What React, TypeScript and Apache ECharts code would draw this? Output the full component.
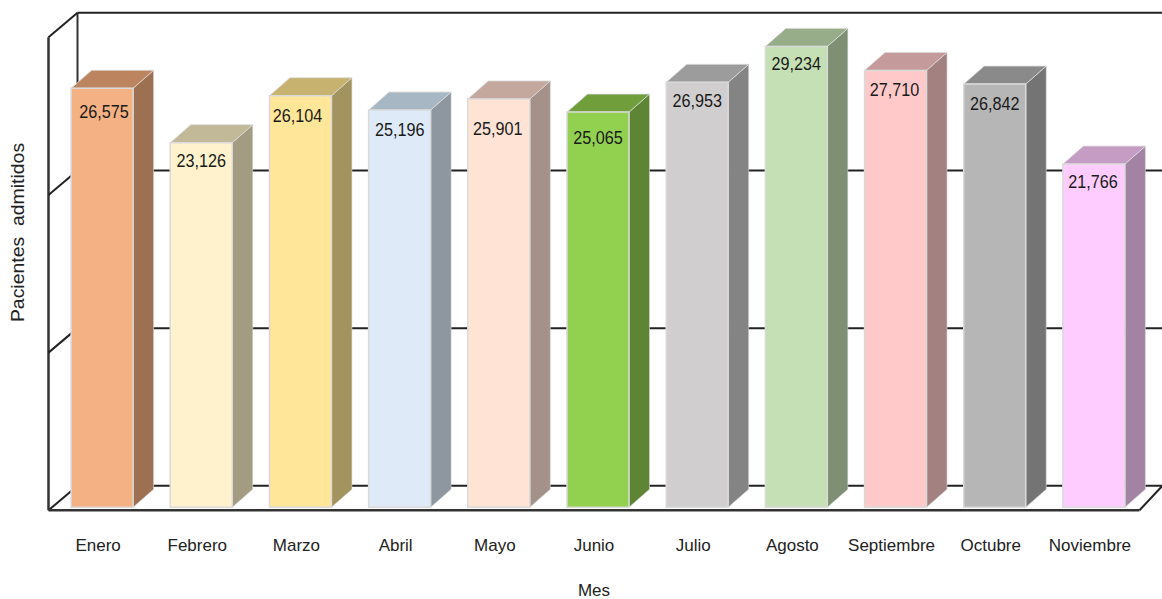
import React, { useEffect, useRef } from "react";
import * as echarts from "echarts";

const months = ["Enero", "Febrero", "Marzo", "Abril", "Mayo", "Junio", "Julio", "Agosto", "Septiembre", "Octubre", "Noviembre"];
const patients = [26575, 23126, 26104, 25196, 25901, 25065, 26953, 29234, 27710, 26842, 21766];
const valueTicks = [0, 10000, 20000, 30000];
const frontColors = ["#F4B183", "#FFF2CC", "#FFE699", "#DEEAF7", "#FFE3D5", "#92D050", "#D0CECE", "#C5E0B4", "#FFC9C9", "#B6B6B6", "#FFCCFF"];
const sideColors = ["#9C7050", "#A39C82", "#A3935F", "#8E969F", "#A3918A", "#5D8533", "#858484", "#7E8F73", "#A38181", "#747474", "#A383A3"];
const topColors = ["#BC8560", "#C2B998", "#C7B36F", "#A8B7C4", "#C4A89E", "#6F9E3B", "#9D9C9C", "#97AC88", "#C49A9A", "#8A8A8A", "#C49CC4"];
const labelDrop = [24, 19, 20, 20, 30, 26, 19, 18, 20, 20, 18];
const labelShift = [2, 0, -3, 0, -1, 0, 0, 0, -1, 0, -1];

const FONT = "'Liberation Sans', Arial, sans-serif";

export default function App() {
  const ref = useRef<HTMLDivElement>(null);
  useEffect(() => {
    document.body.style.margin = "0";
    const chart = echarts.init(ref.current!, undefined, { renderer: "svg" });
    const line = (x1: number, y1: number, x2: number, y2: number, width = 2, color = "#222") => ({
      type: "line",
      shape: { x1, y1, x2, y2 },
      style: { stroke: color, lineWidth: width },
    });
    chart.setOption({
      animation: false,
      backgroundColor: "#fff",
      grid: { left: 48.5, top: 37.3, width: 1091, height: 473, outerBoundsMode: "none" },
      xAxis: {
        type: "category",
        data: months,
        name: "Mes",
        nameLocation: "middle",
        nameGap: 72,
        nameTextStyle: { fontFamily: FONT, fontSize: 17, color: "#222" },
        axisLine: { show: false },
        axisTick: { show: false },
        axisLabel: { margin: 27, fontFamily: FONT, fontSize: 17, color: "#222", interval: 0 },
      },
      yAxis: {
        type: "value",
        min: 0,
        max: 30000,
        interval: 10000,
        axisLine: { show: false },
        axisTick: { show: false },
        axisLabel: { show: false },
        splitLine: { show: false },
      },
      graphic: [
        {
          type: "text",
          x: 18,
          y: 232.5,
          rotation: Math.PI / 2,
          scaleX: 1.08,
          style: {
            text: "Pacientes  admitidos",
            fontFamily: FONT,
            fontSize: 18,
            fill: "#222",
            align: "center",
            verticalAlign: "middle",
          },
        },
      ],
      series: [
        {
          type: "custom",
          silent: true,
          clip: false,
          data: valueTicks.map((v) => [0, v]),
          renderItem: (params: any, api: any) => {
            const cs = params.coordSys;
            const y = api.coord([0, api.value(1)])[1];
            const dx = 29;
            const dy = -24.5;
            const children: any[] = [
              line(cs.x, y, cs.x + dx, y + dy),
              line(cs.x + dx, y + dy, 1162, y + dy),
            ];
            if (params.dataIndex === 0) {
              children.push(
                line(cs.x, cs.y, cs.x, y, 2.5, "#333"),
                line(cs.x + dx, cs.y + dy, cs.x + dx, y + dy, 2, "#333"),
                line(cs.x, y, cs.x + cs.width, y, 2.5, "#333"),
                line(cs.x + cs.width, y, cs.x + cs.width + 23, y + dy, 2, "#222")
              );
            }
            return { type: "group", children };
          },
        },
        {
          type: "custom",
          silent: true,
          clip: false,
          data: patients.map((v, i) => [i, v]),
          renderItem: (params: any, api: any) => {
            const i = params.dataIndex;
            const top = api.coord([i, api.value(1)]);
            const base = api.coord([i, 0]);
            const w = api.size([1, 0])[0] * 0.625;
            const cx = top[0] + 4;
            const x0 = cx - w / 2;
            const x1 = cx + w / 2;
            const yt = top[1] - 3;
            const yb = base[1] - 3;
            const dx = 20.5;
            const dy = -18;
            const edge = "#DADADA";
            return {
              type: "group",
              children: [
                {
                  type: "polygon",
                  shape: { points: [[x1, yt], [x1 + dx, yt + dy], [x1 + dx, yb + dy], [x1, yb]] },
                  style: { fill: sideColors[i], stroke: edge, lineWidth: 0.6 },
                },
                {
                  type: "polygon",
                  shape: { points: [[x0, yt], [x0 + dx, yt + dy], [x1 + dx, yt + dy], [x1, yt]] },
                  style: { fill: topColors[i], stroke: edge, lineWidth: 0.8 },
                },
                {
                  type: "rect",
                  shape: { x: x0, y: yt, width: w, height: yb - yt },
                  style: { fill: frontColors[i], stroke: edge, lineWidth: 1.5 },
                },
                {
                  type: "text",
                  x: cx + labelShift[i],
                  y: yt + labelDrop[i],
                  scaleX: 0.9,
                  style: {
                    text: patients[i].toLocaleString("en-US"),
                    fontFamily: FONT,
                    fontSize: 18,
                    fill: "#1a1a1a",
                    align: "center",
                    verticalAlign: "middle",
                  },
                },
              ],
            };
          },
        },
      ],
    });
    return () => chart.dispose();
  }, []);
  return <div ref={ref} style={{ position: "fixed", left: 0, top: 0, width: 1162, height: 599 }} />;
}
